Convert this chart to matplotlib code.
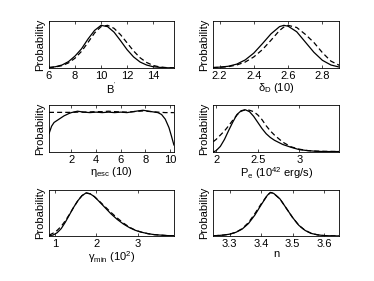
''' Marginal posterior probability of the six model parameters
solid: one run, dashed: the other one
'''

import matplotlib
matplotlib.use('Agg')
import matplotlib.pyplot as plt


# B' panel
b_x = [6.0, 6.5, 7.0, 7.5, 8.0, 8.5, 9.0, 9.5, 10.0, 10.5, 11.0, 11.5, 12.0, 12.5, 13.0, 13.5, 14.0, 14.5, 15.0, 15.6]
b_solid = [.01, .03, .07, .15, .28, .45, .68, .88, 1.0, .97, .84, .64, .43, .26, .14, .07, .03, .015, .006, .002]
b_dash = [.01, .025, .055, .12, .23, .39, .60, .82, .97, 1.0, .93, .78, .59, .40, .24, .13, .06, .025, .01, .003]

# delta_D panel
d_x = [2.16, 2.2, 2.25, 2.3, 2.35, 2.4, 2.45, 2.5, 2.55, 2.575, 2.6, 2.65, 2.7, 2.75, 2.8, 2.85, 2.9]
d_solid = [.01, .02, .04, .09, .19, .35, .57, .80, .97, 1.0, .98, .85, .61, .37, .18, .07, .02]
d_dash = [.01, .015, .03, .07, .14, .26, .43, .65, .88, .96, 1.0, .95, .79, .60, .36, .16, .06]

# eta_esc panel
e_x = [0.19, 0.4, 0.6, 1.0, 1.4, 1.8, 2.0, 2.5, 3.0, 3.5, 4.0, 4.5, 5.0, 5.5, 6.0, 6.5, 7.0, 7.5, 7.8, 8.5, 9.0, 9.3, 9.6, 9.9, 10.1, 10.3]
e_solid = [.39, .55, .63, .70, .77, .82, .84, .87, .85, .84, .85, .84, .85, .84, .85, .84, .86, .88, .89, .86, .84, .80, .70, .52, .34, .15]
e_dash = [.845, .845, .845, .845, .845, .845, .845, .85, .85, .855, .86, .86, .87, .86, .855, .85, .86, .87, .875, .86, .85, .845, .84, .84, .84, .84]

# P_e panel
p_x = [1.965, 2.0, 2.05, 2.1, 2.15, 2.2, 2.25, 2.3, 2.35, 2.4, 2.45, 2.5, 2.55, 2.6, 2.65, 2.7, 2.8, 2.9, 3.0, 3.1, 3.2, 3.3, 3.48]
p_solid = [.0, .03, .12, .27, .46, .64, .80, .88, .90, .86, .76, .63, .50, .39, .31, .25, .16, .10, .05, .03, .015, .01, .01]
p_dash = [.22, .27, .36, .45, .56, .68, .79, .87, .90, .89, .86, .79, .69, .56, .45, .36, .21, .11, .06, .03, .02, .015, .01]

# gamma_min panel
g_x = [0.86, 0.95, 1.05, 1.15, 1.25, 1.35, 1.45, 1.55, 1.65, 1.75, 1.85, 1.95, 2.05, 2.2, 2.35, 2.5, 2.65, 2.8, 2.95, 3.1, 3.25, 3.4, 3.55, 3.7, 3.87]
g_solid = [.01, .02, .07, .16, .30, .46, .62, .76, .87, .93, .91, .85, .76, .62, .48, .36, .26, .18, .12, .08, .05, .03, .02, .01, .005]
g_dash = [.02, .06, .12, .21, .33, .47, .62, .76, .87, .93, .91, .85, .77, .64, .51, .39, .28, .19, .12, .08, .05, .03, .02, .01, .005]

# n panel
n_x = [3.25, 3.28, 3.30, 3.32, 3.34, 3.36, 3.38, 3.40, 3.42, 3.43, 3.44, 3.46, 3.48, 3.50, 3.52, 3.54, 3.56, 3.58, 3.60, 3.62, 3.65]
n_solid = [.005, .02, .04, .08, .15, .27, .45, .67, .88, .94, .92, .80, .60, .40, .23, .12, .055, .025, .01, .005, .002]
n_dash = [.005, .02, .04, .08, .16, .29, .48, .69, .88, .94, .92, .80, .60, .40, .23, .12, .055, .025, .01, .005, .002]


panels = [
    (b_x, b_solid, b_dash, (6, 15.6), (0, 1.1), [6, 8, 10, 12, 14], ['6', '8', '10', '12', '14'], r"B$^{'}$"),
    (d_x, d_solid, d_dash, (2.163, 2.898), (0, 1.1), [2.2, 2.4, 2.6, 2.8], ['2.2', '2.4', '2.6', '2.8'], r'$\delta_D$ (10)'),
    (e_x, e_solid, e_dash, (0.19, 10.3), (0, 1), [2, 4, 6, 8, 10], ['2', '4', '6', '8', '10'], r'$\eta_{esc}$ (10)'),
    (p_x, p_solid, p_dash, (1.964, 3.477), (0, 1), [2, 2.5, 3], ['2', '2.5', '3'], r'P$_e$ (10$^{42}$ erg/s)'),
    (g_x, g_solid, g_dash, (0.855, 3.87), (0, 1), [1, 2, 3], ['1', '2', '3'], r'$\gamma_{min}$ (10$^2$)'),
    (n_x, n_solid, n_dash, (3.248, 3.648), (0, 1), [3.3, 3.4, 3.5, 3.6], ['3.3', '3.4', '3.5', '3.6'], 'n'),
]

# axes boxes, figure fractions (left, bottom, width, height)
boxes = [
    (0.131, 0.758, 0.334, 0.167), (0.570, 0.758, 0.337, 0.167),
    (0.131, 0.459, 0.334, 0.167), (0.570, 0.459, 0.337, 0.167),
    (0.131, 0.160, 0.334, 0.165), (0.570, 0.160, 0.337, 0.165),
]


def graph():
    plt.rcParams['font.family'] = ['Liberation Sans', 'DejaVu Sans']
    plt.rcParams['mathtext.fontset'] = 'custom'
    plt.rcParams['mathtext.rm'] = 'Liberation Sans'
    plt.rcParams['mathtext.it'] = 'Liberation Sans'
    plt.rcParams['mathtext.bf'] = 'Liberation Sans'

    fig = plt.figure(figsize=(3.74, 2.81), dpi=100)
    for (x, ys, yd, xl, yl, ticks, labels, name), box in zip(panels, boxes):
        ax = fig.add_axes(box)
        ax.plot(x, ys, '-', color='k', lw=0.9)
        ax.plot(x, yd, '--', color='k', lw=0.9, dashes=(4, 2.5))
        ax.set_xlim(*xl)
        ax.set_ylim(*yl)
        ax.set_xticks(ticks)
        ax.set_xticklabels(labels)
        ax.set_yticks([])
        ax.tick_params(axis='x', direction='in', top=True, length=2.5, width=0.5,
                       labelsize=8, pad=2)
        for s in ax.spines.values():
            s.set_linewidth(0.6)
        ax.set_xlabel(name, fontsize=8, labelpad=0)
        ax.set_ylabel('Probability', fontsize=8, labelpad=3)

    fig.savefig('out.png', dpi=100)


if __name__ == '__main__':
    graph()
